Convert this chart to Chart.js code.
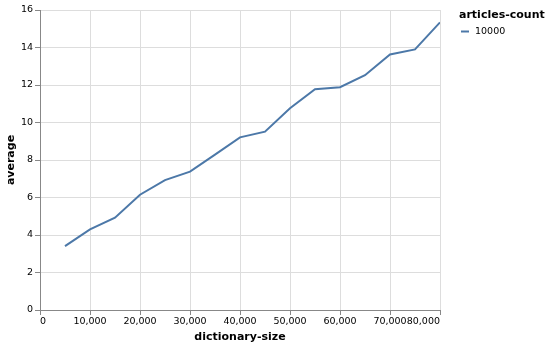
<!DOCTYPE html>
<html>
<head>
<meta charset="utf-8">
<script src="https://cdn.jsdelivr.net/npm/chart.js@4/dist/chart.umd.min.js"></script>
<style>
  html, body { margin: 0; padding: 0; background: #fff; }
  #wrap { width: 551px; height: 347px; }
</style>
</head>
<body>
<div id="wrap"><canvas id="myChart" width="551" height="347"></canvas></div>
<script>
// values
const dictionarySize = [5000, 10000, 15000, 20000, 25000, 30000, 35000, 40000,
  45000, 50000, 55000, 60000, 65000, 70000, 75000, 80000];
const average = [3.41, 4.30, 4.92, 6.15, 6.93, 7.38, 8.29, 9.21,
  9.51, 10.76, 11.77, 11.88, 12.52, 13.63, 13.90, 15.34];
const seriesName = "10000";
const legendTitle = "articles-count";
const xTicks = [0, 10000, 20000, 30000, 40000, 50000, 60000, 70000, 80000];
const yTicks = [0, 2, 4, 6, 8, 10, 12, 14, 16];

const lineColor = "#4c78a8";
const font = "DejaVu Sans";

const points = dictionarySize.map((d, i) => ({ x: d, y: average[i] }));

const fmt = (v) => v.toLocaleString("en-US");

// x labels flush at the ends, like vega does
const xLabels = {
  id: "xLabels",
  afterDraw(chart) {
    const ctx = chart.ctx;
    const sx = chart.scales.x;
    ctx.save();
    ctx.font = "9.5px '" + font + "'";
    ctx.fillStyle = "#000";
    ctx.textBaseline = "top";
    xTicks.forEach((v, i) => {
      ctx.textAlign = i === 0 ? "left" : (i === xTicks.length - 1 ? "right" : "center");
      ctx.fillText(fmt(v), sx.getPixelForValue(v), chart.chartArea.bottom + 7);
    });
    ctx.restore();
  }
};

// legend on the right
const sideLegend = {
  id: "sideLegend",
  afterDraw(chart) {
    const ctx = chart.ctx;
    const x0 = chart.chartArea.right + 19;
    ctx.save();
    ctx.fillStyle = "#000";
    ctx.textAlign = "left";
    ctx.textBaseline = "middle";
    ctx.font = "bold 11px '" + font + "'";
    ctx.fillText(legendTitle, x0, 15.5);
    ctx.strokeStyle = lineColor;
    ctx.lineWidth = 2;
    ctx.beginPath();
    ctx.moveTo(x0 + 2, 31.5);
    ctx.lineTo(x0 + 10, 31.5);
    ctx.stroke();
    ctx.font = "9.5px '" + font + "'";
    ctx.fillText(seriesName, x0 + 16, 32);
    ctx.restore();
  }
};

const config = {
  type: "line",
  data: {
    datasets: [{
      label: seriesName,
      data: points,
      borderColor: lineColor,
      backgroundColor: lineColor,
      borderWidth: 2,
      pointRadius: 0,
      tension: 0,
      fill: false
    }]
  },
  options: {
    responsive: false,
    animation: false,
    layout: { padding: { left: 0, right: 111, top: 10, bottom: 0 } },
    plugins: {
      legend: { display: false },
      tooltip: { enabled: false }
    },
    scales: {
      x: {
        type: "linear",
        min: 0,
        max: 80000,
        afterBuildTicks: (scale) => { scale.ticks = xTicks.map(v => ({ value: v })); },
        afterFit: (scale) => { scale.height = 37; },
        ticks: { display: false },
        grid: { color: "#ddd", tickColor: "#888", tickLength: 5 },
        border: { color: "#888" },
        title: {
          display: true,
          text: "dictionary-size",
          color: "#000",
          font: { family: font, size: 11, weight: "bold" },
          padding: { top: 0, bottom: 3 }
        }
      },
      y: {
        min: 0,
        max: 16,
        afterBuildTicks: (scale) => { scale.ticks = yTicks.map(v => ({ value: v })); },
        afterFit: (scale) => { scale.width = 40; },
        ticks: {
          color: "#000",
          font: { family: font, size: 9.5 },
          padding: 2
        },
        grid: { color: "#ddd", tickColor: "#888", tickLength: 5 },
        border: { color: "#888" },
        title: {
          display: true,
          text: "average",
          color: "#000",
          font: { family: font, size: 11, weight: "bold" },
          padding: { top: 5, bottom: 0 }
        }
      }
    }
  },
  plugins: [xLabels, sideLegend]
};

const myChart = new Chart(document.getElementById("myChart"), config);
</script>
</body>
</html>
